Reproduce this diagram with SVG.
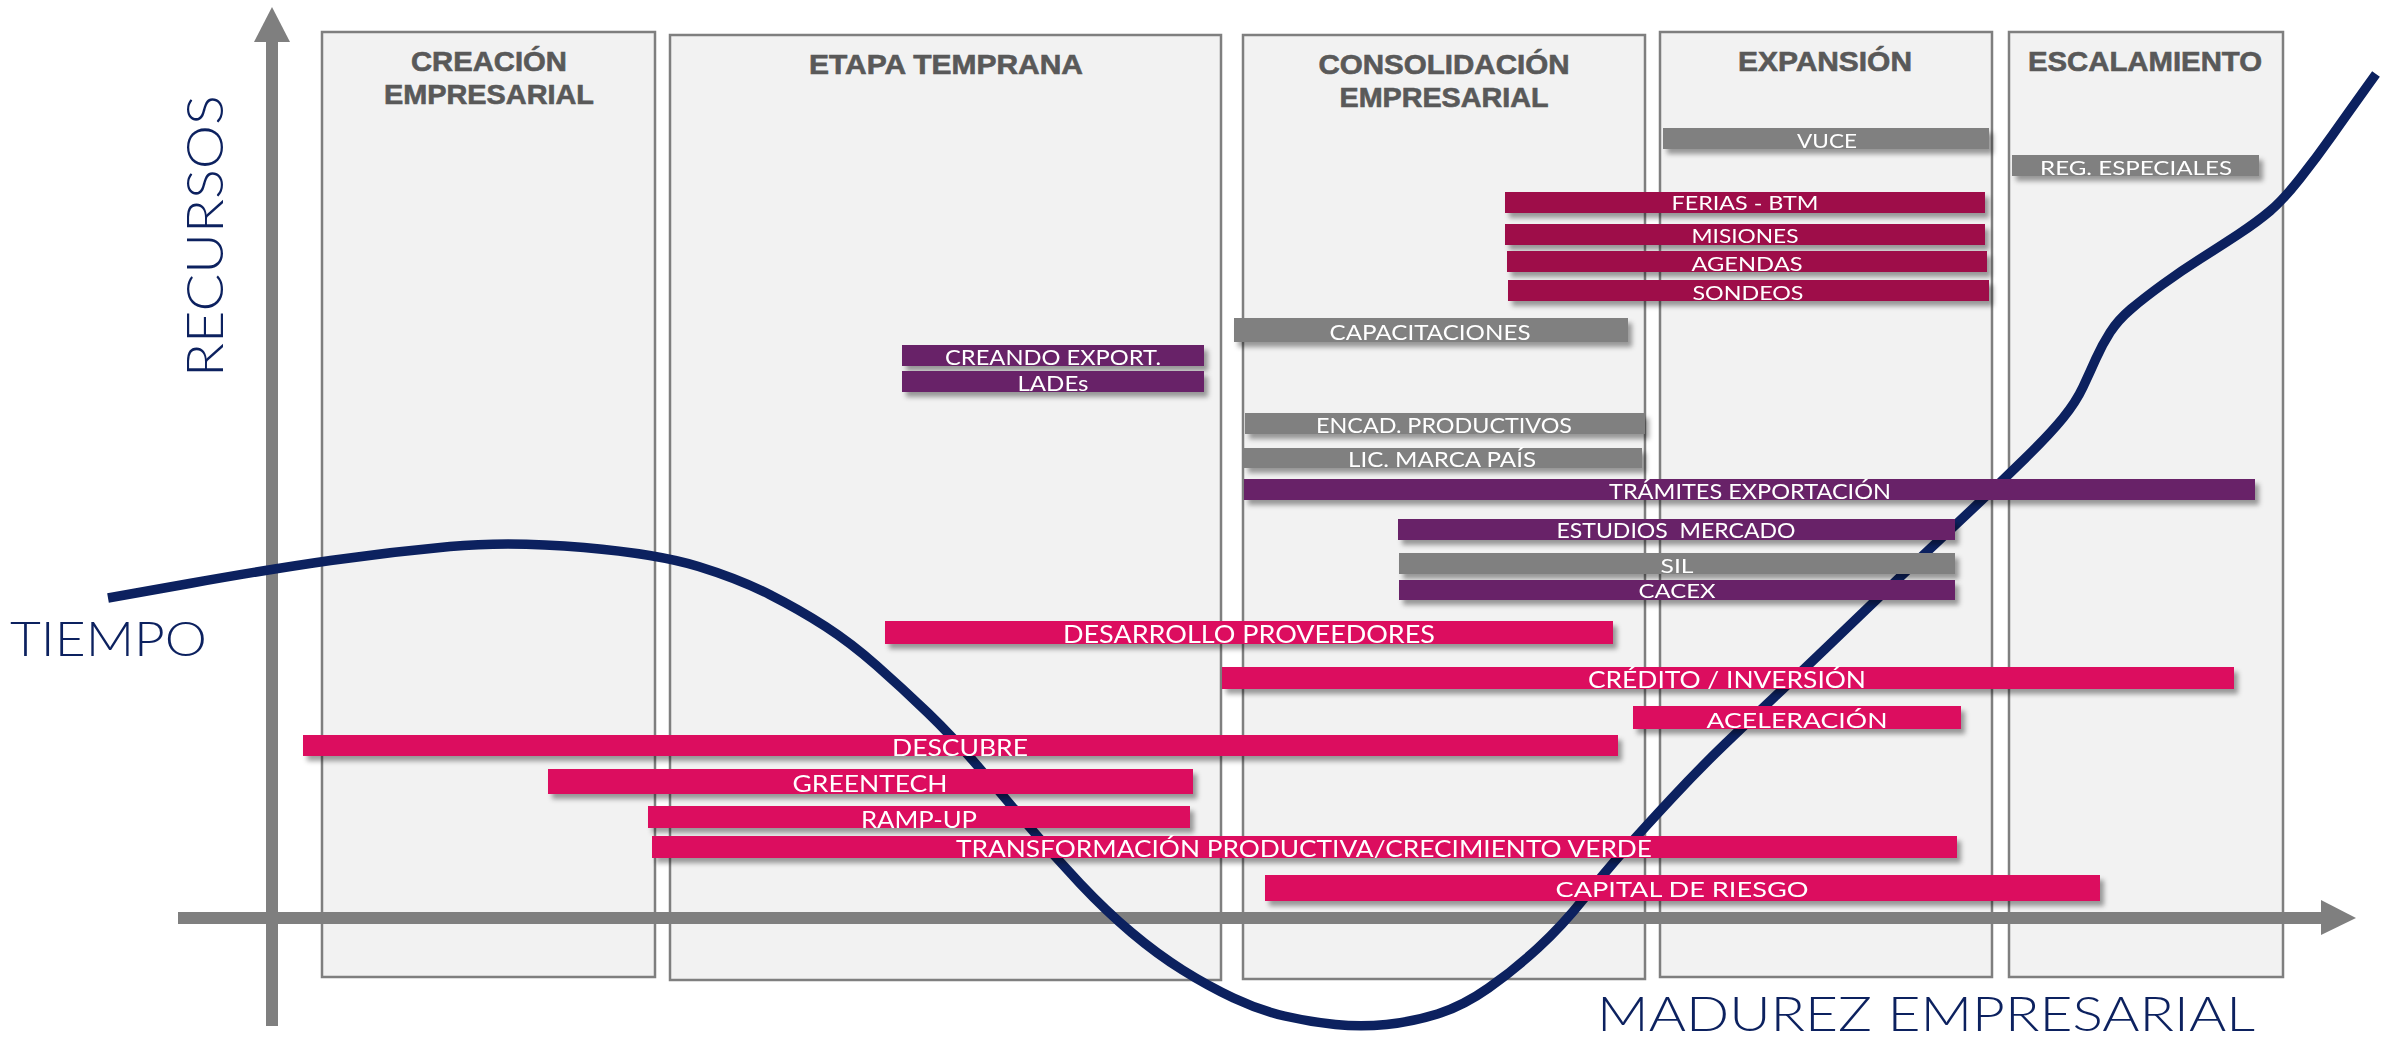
<svg xmlns="http://www.w3.org/2000/svg" width="2384" height="1038" viewBox="0 0 2384 1038">
<defs>
<style>
.frame{fill:#f2f2f2;stroke:#7f7f7f;stroke-width:2.5}
.head{font-family:"Liberation Sans",Arial,sans-serif;font-weight:bold;font-size:27px;fill:#595959;stroke:#595959;stroke-width:0.6;text-anchor:middle}
.lbl{font-family:Lato,"Open Sans","Liberation Sans",sans-serif;font-weight:400;fill:#ffffff;text-anchor:middle}
.axlbl{font-family:Lato,"Open Sans","Liberation Sans",sans-serif;font-weight:300;fill:#0c215f}
.pink{fill:#dc0a5f}
.crim{fill:#9e0e48}
.purp{fill:#682467}
.gray{fill:#808080}
.bar{filter:url(#sh)}
</style>
<filter id="sh" x="-5%" y="-50%" width="110%" height="220%">
<feDropShadow dx="4" dy="5" stdDeviation="2.5" flood-color="#000" flood-opacity="0.38"/>
</filter>
</defs>
<rect width="2384" height="1038" fill="#ffffff"/>
<g id="stages">
<g id="stage-creacion"><rect class="frame" x="322" y="32" width="333" height="945"/><text class="head" x="489" y="71" textLength="156" lengthAdjust="spacingAndGlyphs">CREACIÓN</text><text class="head" x="489" y="104" textLength="210" lengthAdjust="spacingAndGlyphs">EMPRESARIAL</text></g>
<g id="stage-temprana"><rect class="frame" x="670" y="35" width="551" height="945"/><text class="head" x="946" y="74" textLength="274" lengthAdjust="spacingAndGlyphs">ETAPA TEMPRANA</text></g>
<g id="stage-consolidacion"><rect class="frame" x="1243" y="35" width="402" height="944"/><text class="head" x="1444" y="74" textLength="251" lengthAdjust="spacingAndGlyphs">CONSOLIDACIÓN</text><text class="head" x="1444" y="107" textLength="209" lengthAdjust="spacingAndGlyphs">EMPRESARIAL</text></g>
<g id="stage-expansion"><rect class="frame" x="1660" y="32" width="332" height="945"/><text class="head" x="1825" y="71" textLength="174" lengthAdjust="spacingAndGlyphs">EXPANSIÓN</text></g>
<g id="stage-escalamiento"><rect class="frame" x="2009" y="32" width="274" height="945"/><text class="head" x="2145" y="71" textLength="234" lengthAdjust="spacingAndGlyphs">ESCALAMIENTO</text></g>
</g>
<g id="axes" fill="#7f7f7f">
<rect x="266" y="40" width="12" height="986"/>
<polygon points="272,7 290,42 254,42"/>
<rect x="178" y="912" width="2146" height="12"/>
<polygon points="2356,918 2321,900 2321,935"/>
</g>
<g id="curve">
<path d="M108,598 L189.5,583.5 Q271,569 330.5,560.5 Q390,552 450,546.5 Q510,541 584,547.5 Q658,554 698.5,566.5 Q739,579 769.5,594.5 Q800,610 825.5,626.5 Q851,643 876.5,665.5 Q902,688 927.5,712.5 Q953,737 978.5,767 Q1004,797 1029.5,827 Q1055,857 1080.5,884 Q1106,911 1131.5,932.5 Q1157,954 1182.5,970 Q1208,986 1233.5,998 Q1259,1010 1284.5,1016 Q1310,1022 1335.5,1024.5 Q1361,1027 1386.5,1024.5 Q1412,1022 1437.5,1014 Q1463,1006 1488.5,988 Q1514,970 1538,948 Q1562,926 1583.5,899 Q1605,872 1625,849.5 Q1645,827 1672.5,797.5 Q1700,768 1725,744 Q1750,720 1775,696.5 Q1800,673 1825,649 Q1850,625 1875,601 Q1900,577 1925,553.5 Q1950,530 1975,506.5 Q2000,483 2025,458.5 Q2050,434 2063,418 Q2076,402 2083,387 Q2090,372 2096,358.5 Q2102,345 2110,332.5 Q2118,320 2131,309 Q2144,298 2162.5,284.5 Q2181,271 2200,259 Q2219,247 2238,234.5 Q2257,222 2270,211 Q2283,200 2300,178.5 Q2317,157 2332.5,135 Q2348,113 2376,74" fill="none" stroke="#0c215f" stroke-width="9.5"/>
</g>
<g id="bars">
<g id="vuce" class="bar"><rect class="gray" x="1663" y="128" width="326" height="21"/><text class="lbl" x="1827" y="148" font-size="20" textLength="60" lengthAdjust="spacingAndGlyphs">VUCE</text></g>
<g id="reg-especiales" class="bar"><rect class="gray" x="2012" y="155" width="247" height="21"/><text class="lbl" x="2136" y="175" font-size="20" textLength="192" lengthAdjust="spacingAndGlyphs">REG. ESPECIALES</text></g>
<g id="ferias" class="bar"><rect class="crim" x="1505" y="192" width="480" height="21"/><text class="lbl" x="1745" y="210" font-size="20" textLength="147" lengthAdjust="spacingAndGlyphs">FERIAS - BTM</text></g>
<g id="misiones" class="bar"><rect class="crim" x="1505" y="224" width="480" height="21"/><text class="lbl" x="1745" y="243" font-size="20" textLength="107" lengthAdjust="spacingAndGlyphs">MISIONES</text></g>
<g id="agendas" class="bar"><rect class="crim" x="1507" y="251" width="480" height="21"/><text class="lbl" x="1747" y="271" font-size="20" textLength="111" lengthAdjust="spacingAndGlyphs">AGENDAS</text></g>
<g id="sondeos" class="bar"><rect class="crim" x="1508" y="280" width="481" height="21"/><text class="lbl" x="1748" y="300" font-size="20" textLength="111" lengthAdjust="spacingAndGlyphs">SONDEOS</text></g>
<g id="capacitaciones" class="bar"><rect class="gray" x="1234" y="318" width="394" height="24"/><text class="lbl" x="1430" y="340" font-size="22" textLength="201" lengthAdjust="spacingAndGlyphs">CAPACITACIONES</text></g>
<g id="creando-export" class="bar"><rect class="purp" x="902" y="345" width="302" height="21"/><text class="lbl" x="1053" y="365" font-size="21" textLength="216" lengthAdjust="spacingAndGlyphs">CREANDO EXPORT.</text></g>
<g id="lades" class="bar"><rect class="purp" x="902" y="371" width="302" height="21"/><text class="lbl" x="1053" y="391" font-size="21" textLength="71" lengthAdjust="spacingAndGlyphs">LADEs</text></g>
<g id="encad" class="bar"><rect class="gray" x="1245" y="413" width="400" height="21"/><text class="lbl" x="1444" y="433" font-size="22" textLength="256" lengthAdjust="spacingAndGlyphs">ENCAD. PRODUCTIVOS</text></g>
<g id="lic-marca" class="bar"><rect class="gray" x="1244" y="448" width="398" height="20"/><text class="lbl" x="1442" y="467" font-size="21" textLength="188" lengthAdjust="spacingAndGlyphs">LIC. MARCA PAÍS</text></g>
<g id="tramites" class="bar"><rect class="purp" x="1244" y="479" width="1011" height="21"/><text class="lbl" x="1750" y="499" font-size="21" textLength="282" lengthAdjust="spacingAndGlyphs">TRÁMITES EXPORTACIÓN</text></g>
<g id="estudios" class="bar"><rect class="purp" x="1398" y="519" width="557" height="21"/><text class="lbl" x="1676" y="538" font-size="21" textLength="239" lengthAdjust="spacingAndGlyphs" xml:space="preserve">ESTUDIOS  MERCADO</text></g>
<g id="sil" class="bar"><rect class="gray" x="1399" y="553" width="556" height="21"/><text class="lbl" x="1677" y="573" font-size="20" textLength="33" lengthAdjust="spacingAndGlyphs">SIL</text></g>
<g id="cacex" class="bar"><rect class="purp" x="1399" y="580" width="556" height="20"/><text class="lbl" x="1677" y="598" font-size="19" textLength="77" lengthAdjust="spacingAndGlyphs">CACEX</text></g>
<g id="desarrollo" class="bar"><rect class="pink" x="885" y="621" width="728" height="23"/><text class="lbl" x="1249" y="643" font-size="25" textLength="372" lengthAdjust="spacingAndGlyphs">DESARROLLO PROVEEDORES</text></g>
<g id="credito" class="bar"><rect class="pink" x="1222" y="667" width="1012" height="22"/><text class="lbl" x="1727" y="688" font-size="24" textLength="278" lengthAdjust="spacingAndGlyphs">CRÉDITO / INVERSIÓN</text></g>
<g id="aceleracion" class="bar"><rect class="pink" x="1633" y="706" width="328" height="23"/><text class="lbl" x="1797" y="728" font-size="22" textLength="181" lengthAdjust="spacingAndGlyphs">ACELERACIÓN</text></g>
<g id="descubre" class="bar"><rect class="pink" x="303" y="735" width="1315" height="21"/><text class="lbl" x="960" y="756" font-size="24" textLength="136" lengthAdjust="spacingAndGlyphs">DESCUBRE</text></g>
<g id="greentech" class="bar"><rect class="pink" x="548" y="769" width="645" height="25"/><text class="lbl" x="870" y="792" font-size="24" textLength="155" lengthAdjust="spacingAndGlyphs">GREENTECH</text></g>
<g id="ramp-up" class="bar"><rect class="pink" x="648" y="806" width="542" height="22"/><text class="lbl" x="919" y="828" font-size="24" textLength="116" lengthAdjust="spacingAndGlyphs">RAMP-UP</text></g>
<g id="transformacion" class="bar"><rect class="pink" x="652" y="836" width="1305" height="22"/><text class="lbl" x="1304" y="857" font-size="23" textLength="696" lengthAdjust="spacingAndGlyphs">TRANSFORMACIÓN PRODUCTIVA/CRECIMIENTO VERDE</text></g>
<g id="capital-riesgo" class="bar"><rect class="pink" x="1265" y="875" width="835" height="26"/><text class="lbl" x="1682" y="897" font-size="22" textLength="253" lengthAdjust="spacingAndGlyphs">CAPITAL DE RIESGO</text></g>
</g>
<g id="axis-labels">
<text class="axlbl" transform="translate(223,236) rotate(-90)" text-anchor="middle" font-size="52" textLength="282" lengthAdjust="spacingAndGlyphs">RECURSOS</text>
<text class="axlbl" x="10" y="656" font-size="47" textLength="197" lengthAdjust="spacingAndGlyphs">TIEMPO</text>
<text class="axlbl" x="1597" y="1031" font-size="48" textLength="658" lengthAdjust="spacingAndGlyphs">MADUREZ EMPRESARIAL</text>
</g>
</svg>
